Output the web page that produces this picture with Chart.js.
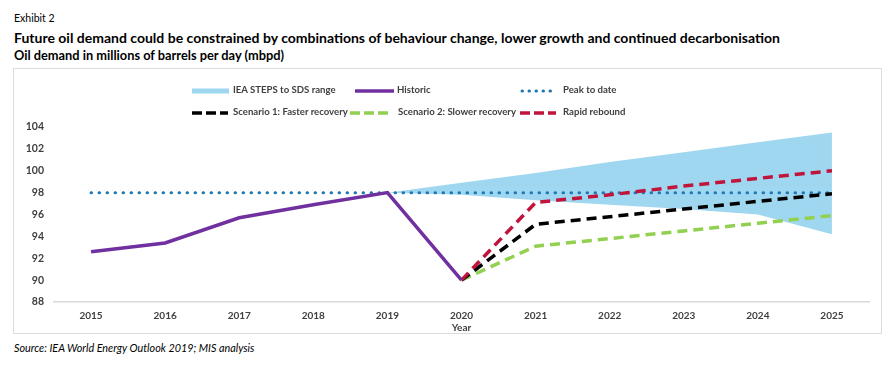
<!DOCTYPE html>
<html>
<head>
<meta charset="utf-8">
<script src="https://cdn.jsdelivr.net/npm/chart.js@4.4.0/dist/chart.umd.min.js"></script>
<style>
  body { margin: 0; background: #fff; font-family: Lato, "Open Sans", sans-serif; color: #000; }
  #page { position: relative; width: 893px; height: 373px; overflow: hidden; }
  .txt { position: absolute; white-space: nowrap; }
  #exhibit { left: 14px; top: 12px; font-size: 10.5px; }
  #title { left: 14px; top: 29px; font-size: 14px; font-weight: bold; }
  #subtitle { left: 14px; top: 47px; font-size: 12.8px; font-weight: bold; }
  #source { left: 14px; top: 341px; font-size: 10.8px; font-style: italic; }
  #box { position: absolute; left: 13px; top: 68px; width: 869px; height: 266px; box-sizing: border-box; border: 1.5px solid #dcdcdc; }
  #wrap { position: absolute; left: 13px; top: 69px; width: 869px; height: 265px; }
  .leg { position: absolute; font-size: 9.6px; font-weight: bold; color: #404040; white-space: nowrap; }
  .sw { position: absolute; }
</style>
</head>
<body>
<div id="page">
  <div class="txt" id="exhibit">Exhibit 2</div>
  <div class="txt" id="title">Future oil demand could be constrained by combinations of behaviour change, lower growth and continued decarbonisation</div>
  <div class="txt" id="subtitle">Oil demand in millions of barrels per day (mbpd)</div>
  <div id="box"></div>
  <div id="wrap"><canvas id="oilChart"></canvas></div>
  <div id="legend"></div>
  <div class="txt" id="source">Source: IEA World Energy Outlook 2019; MIS analysis</div>
</div>
<script>
const years = ['2015', '2016', '2017', '2018', '2019', '2020', '2021', '2022', '2023', '2024', '2025'];
const historic = [92.6, 93.4, 95.7, 96.9, 98.0, 90.0, null, null, null, null, null];
const peakToDate = [98, 98, 98, 98, 98, 98, 98, 98, 98, 98, 98];
const scenario1 = [null, null, null, null, null, 90.0, 95.1, 95.8, 96.5, 97.2, 97.9];
const scenario2 = [null, null, null, null, null, 90.0, 93.1, 93.8, 94.5, 95.2, 95.9];
const rapidRebound = [null, null, null, null, null, 90.0, 97.1, 97.8, 98.6, 99.3, 100.0];
const ieaUpper = [null, null, null, null, 98.0, 98.9, 99.8, 100.8, 101.7, 102.6, 103.5];
const ieaLower = [null, null, null, null, 98.0, 97.8, 97.3, 96.9, 96.5, 96.0, 94.2];
const yTicks = [88, 90, 92, 94, 96, 98, 100, 102, 104];

const bandColor = '#9fd7f0';
const purple = '#7030a0';
const dotBlue = '#1f77b4';
const green = '#92d050';
const red = '#c0143c';

document.addEventListener('DOMContentLoaded', function () {
  const ctx = document.getElementById('oilChart').getContext('2d');
  new Chart(ctx, {
    type: 'line',
    data: {
      labels: years,
      datasets: [
        {label: 'Historic', data: historic, borderColor: purple, borderWidth: 3.5, pointRadius: 0, order: 1},
        {label: 'Rapid rebound', data: rapidRebound, borderColor: red, borderWidth: 3.5, borderDash: [10, 6], pointRadius: 0, order: 2},
        {label: 'Scenario 1: Faster recovery', data: scenario1, borderColor: '#000', borderWidth: 3.5, borderDash: [10, 6], pointRadius: 0, order: 3},
        {label: 'Scenario 2: Slower recovery', data: scenario2, borderColor: green, borderWidth: 3.5, borderDash: [10, 6], pointRadius: 0, order: 4},
        {label: 'Peak to date', data: peakToDate, borderColor: dotBlue, borderWidth: 3, borderDash: [0.5, 7.5], borderCapStyle: 'round', pointRadius: 0, order: 5},
        {label: 'IEA STEPS to SDS range', data: ieaUpper, borderWidth: 0, borderColor: 'rgba(0,0,0,0)', backgroundColor: bandColor, fill: '+1', pointRadius: 0, order: 6},
        {label: 'lower', data: ieaLower, borderWidth: 0, borderColor: 'rgba(0,0,0,0)', fill: false, pointRadius: 0, order: 7}
      ]
    },
    options: {
      responsive: true,
      maintainAspectRatio: false,
      animation: false,
      layout: {padding: {top: 58, right: 13, left: 0, bottom: 0}},
      plugins: {legend: {display: false}, tooltip: {enabled: false}},
      scales: {
        x: {
          offset: true,
          grid: {display: false, drawTicks: false},
          border: {color: '#d9d9d9', width: 1.5},
          ticks: {color: '#404040', font: {family: 'Lato', size: 10, weight: 'bold'}, padding: 8, maxRotation: 0},
          title: {display: true, text: 'Year', color: '#404040', font: {family: 'Lato', size: 10, weight: 'bold'}, padding: 0},
          afterFit: function (scale) { scale.height = 32; }
        },
        y: {
          min: 88,
          max: 104,
          afterBuildTicks: function (scale) { scale.ticks = yTicks.map(v => ({value: v})); },
          grid: {display: false, drawTicks: false},
          border: {display: false},
          ticks: {color: '#404040', font: {family: 'Lato', size: 10.5, weight: 'bold'}, padding: 10},
          afterFit: function (scale) { scale.width = 41; }
        }
      }
    }
  });

  // legend laid out in fixed columns like the original
  const legendItems = [
    {text: 'IEA STEPS to SDS range', kind: 'band', x: 192, len: 37, tx: 233, y: 91},
    {text: 'Historic', kind: 'solid', color: purple, x: 355, len: 39, tx: 397, y: 91},
    {text: 'Peak to date', kind: 'dots', color: dotBlue, x: 520, len: 36, tx: 563, y: 91},
    {text: 'Scenario 1: Faster recovery', kind: 'dash', color: '#000', x: 192, len: 36, tx: 233, y: 113},
    {text: 'Scenario 2: Slower recovery', kind: 'dash', color: green, x: 350, len: 41, tx: 398, y: 113},
    {text: 'Rapid rebound', kind: 'dash', color: red, x: 520, len: 36, tx: 563, y: 113}
  ];
  const legend = document.getElementById('legend');
  legendItems.forEach(function (it) {
    const c = document.createElement('canvas');
    c.width = 44; c.height = 8;
    c.className = 'sw';
    c.style.left = it.x + 'px';
    c.style.top = (it.y - 4) + 'px';
    const g = c.getContext('2d');
    if (it.kind === 'band') {
      g.fillStyle = bandColor;
      g.fillRect(0, 1.5, it.len, 5);
    } else {
      g.strokeStyle = it.color;
      g.lineWidth = it.kind === 'dots' ? 3 : 3.5;
      if (it.kind === 'dash') g.setLineDash([10, 4]);
      if (it.kind === 'dots') { g.setLineDash([0.5, 6.5]); g.lineCap = 'round'; }
      g.beginPath();
      g.moveTo(it.kind === 'dots' ? 2 : 0, 4);
      g.lineTo(it.len, 4);
      g.stroke();
    }
    legend.appendChild(c);
    const t = document.createElement('div');
    t.className = 'leg';
    t.textContent = it.text;
    t.style.left = it.tx + 'px';
    t.style.top = (it.y - 7) + 'px';
    legend.appendChild(t);
  });
});
</script>
</body>
</html>
